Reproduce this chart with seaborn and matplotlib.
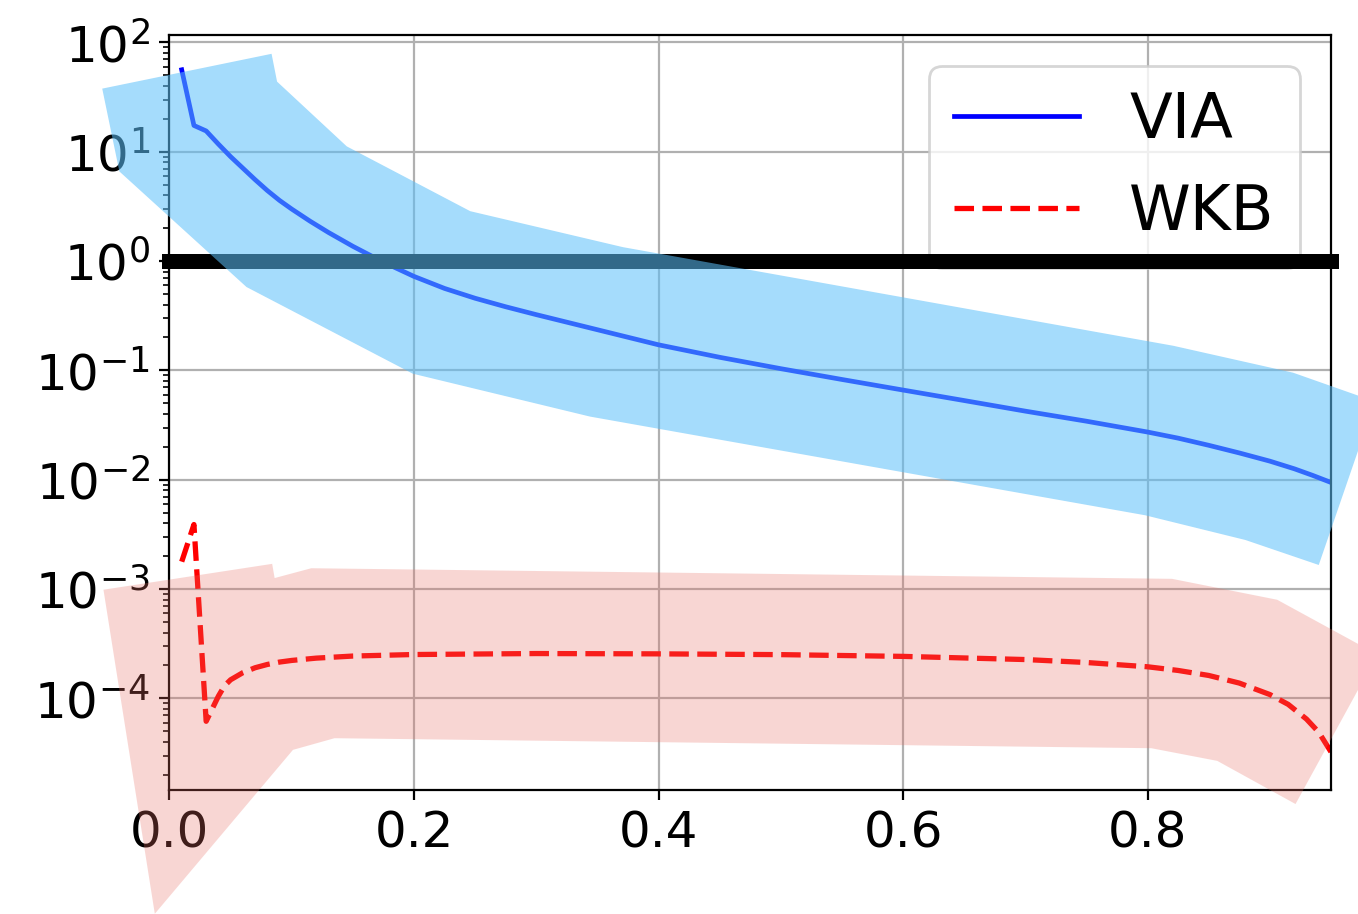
import matplotlib
matplotlib.use("Agg")
import matplotlib.pyplot as plt
import seaborn as sns

# ---- data ----
via_x = [0.01, 0.02, 0.03, 0.04, 0.05, 0.06, 0.07, 0.08, 0.09, 0.1, 0.115, 0.13,
         0.15, 0.175, 0.2, 0.225, 0.25, 0.275, 0.3, 0.35, 0.4, 0.45, 0.5, 0.55,
         0.6, 0.65, 0.7, 0.75, 0.8, 0.825, 0.85, 0.875, 0.9, 0.92, 0.935, 0.95]
via_y = [56.2, 17.4, 15.5, 11.75, 9.02, 7.08, 5.56, 4.42, 3.59, 2.99, 2.317, 1.828,
         1.365, 0.977, 0.724, 0.562, 0.457, 0.382, 0.3236, 0.2355, 0.1714, 0.1318,
         0.1037, 0.0826, 0.0661, 0.0530, 0.0424, 0.0343, 0.0273, 0.0240, 0.02065,
         0.01758, 0.01479, 0.01259, 0.01096, 0.00944]

wkb_x = [0.01, 0.02, 0.03, 0.04, 0.045, 0.05, 0.06, 0.07, 0.08, 0.09, 0.1, 0.12,
         0.15, 0.2, 0.3, 0.4, 0.5, 0.6, 0.7, 0.75, 0.8, 0.825, 0.85, 0.875, 0.9,
         0.915, 0.93, 0.94, 0.95]
wkb_y = [1.78e-3, 3.89e-3, 6.17e-5, 1.047e-4, 1.303e-4, 1.479e-4, 1.718e-4,
         1.905e-4, 2.042e-4, 2.148e-4, 2.223e-4, 2.333e-4, 2.438e-4, 2.518e-4,
         2.570e-4, 2.553e-4, 2.512e-4, 2.421e-4, 2.265e-4, 2.128e-4, 1.945e-4,
         1.80e-4, 1.62e-4, 1.38e-4, 1.084e-4, 8.81e-5, 6.46e-5, 4.90e-5, 3.24e-5]

# uncertainty bands (polygon outlines, upper edge then lower edge)
via_band_x = [-0.055, 0.0835, 0.088, 0.145, 0.246, 0.371, 0.821, 0.919, 0.986,
              0.940, 0.880, 0.798, 0.344, 0.199, 0.063, -0.041]
via_band_y = [37.8, 78.7, 43.8, 11.2, 2.86, 1.34, 0.168, 0.0953, 0.0519,
              0.00166, 0.00281, 0.00473, 0.0378, 0.0933, 0.579, 6.61]

wkb_band_x = [-0.054, 0.084, 0.086, 0.116, 0.820, 0.906, 0.988,
              0.921, 0.857, 0.803, 0.135, 0.101, -0.012]
wkb_band_y = [9.86e-4, 1.70e-3, 1.26e-3, 1.55e-3, 1.24e-3, 7.98e-4, 2.52e-4,
              1.08e-5, 2.68e-5, 3.50e-5, 4.32e-5, 3.38e-5, 1.07e-6]

threshold = 1.0
x_ticks = [0.0, 0.2, 0.4, 0.6, 0.8]
series_labels = ["VIA", "WKB"]

# ---- figure ----
plt.rcParams["font.family"] = ["DejaVu Sans"]
fig, ax = plt.subplots(figsize=(6.79, 4.57), dpi=200)
fig.subplots_adjust(left=0.1248, right=0.9801, top=0.9617, bottom=0.1357)

sns.lineplot(x=via_x, y=via_y, color="blue", linewidth=1.7,
             label=series_labels[0], ax=ax, zorder=2)
sns.lineplot(x=wkb_x, y=wkb_y, color="red", linewidth=1.9, linestyle="--",
             label=series_labels[1], ax=ax, zorder=2)

ax.set_yscale("log")
ax.grid(True, color="#b0b0b0", linewidth=0.8)
ax.set_xticks(x_ticks)
ax.tick_params(labelsize=18)

leg = ax.legend(loc="upper right", fontsize=22.5)
leg.set_zorder(5)

ax.axhline(threshold, color="black", linewidth=5.4, solid_capstyle="projecting",
           clip_on=False, zorder=6)

ax.fill(via_band_x, via_band_y, color=(92 / 255, 192 / 255, 250 / 255), alpha=0.553,
        linewidth=0, clip_on=False, zorder=7)
ax.fill(wkb_band_x, wkb_band_y, color=(233 / 255, 110 / 255, 100 / 255), alpha=0.28,
        linewidth=0, clip_on=False, zorder=7)

ax.set_xlim(0, 0.95)
ax.set_ylim(10 ** -4.838, 10 ** 2.068)

fig.savefig("out.png", dpi=200)
